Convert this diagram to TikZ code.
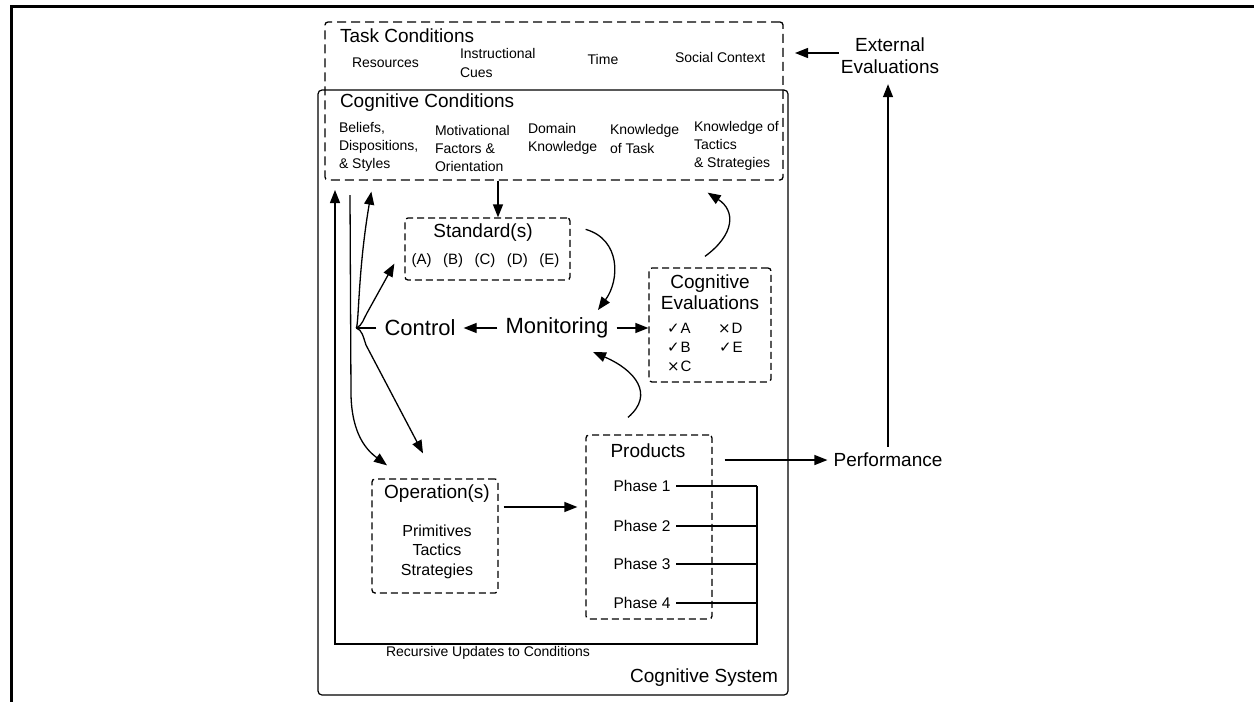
\documentclass[tikz,border=0pt]{standalone}
\usepackage{fontspec}
\setmainfont{Liberation Sans}
\newfontfamily\dvfont{DejaVu Sans}
\usetikzlibrary{arrows.meta,calc}
\begin{document}
\begin{tikzpicture}[x=1pt,y=-1pt,
  arr/.style={line width=1.3pt,-{Triangle[length=13pt,width=10pt]}},
  ln/.style={line width=1.3pt},
  dbox/.style={draw,line width=1.3pt,dash pattern=on 7pt off 4pt,rounded corners=3pt,inner sep=0pt},
  txt/.style={inner sep=0pt,outer sep=0pt},
  fbig/.style={font=\fontsize{19}{21}\selectfont},
  fhuge/.style={font=\fontsize{22}{26}\selectfont},
  fsmall/.style={font=\fontsize{14}{18.3}\selectfont},
  fmid/.style={font=\fontsize{15.5}{19.5}\selectfont},
  fev/.style={font=\fontsize{15}{18}\selectfont}]
\useasboundingbox (0,0) rectangle (1254,702);
% outer frame (cropped)
\draw[line width=2.8pt] (11.3,702) -- (11.3,6.3) -- (1254,6.3);

% boxes
\node[draw,line width=1.2pt,rounded corners=4pt,minimum width=470pt,minimum height=605pt,inner sep=0pt] (sys) at (553,392.5) {};
\node[dbox,dash pattern=on 9pt off 5pt,minimum width=458pt,minimum height=158pt] (cond) at (554,101) {};
\node[dbox,minimum width=165pt,minimum height=62pt] (std) at (487.5,249) {};
\node[dbox,minimum width=122pt,minimum height=114pt] (ev) at (710,325) {};
\node[dbox,minimum width=126pt,minimum height=114pt] (op) at (435,536) {};
\node[dbox,minimum width=126pt,minimum height=184pt] (prod) at (649,527) {};

% task conditions
\node[txt,fbig,anchor=west] (taskc) at (340,36) {Task Conditions};
\node[txt,fsmall,anchor=west] (res) at (352,63) {Resources};
\node[txt,font=\fontsize{14}{19}\selectfont,anchor=west,align=left] (instr) at (460,62.5) {Instructional\\Cues};
\node[txt,fsmall] (time) at (603,59) {Time};
\node[txt,fsmall,anchor=west] (soc) at (675,57) {Social Context};

% cognitive conditions
\node[txt,fbig,anchor=west] (cogc) at (340,103) {Cognitive Conditions};
\node[txt,fsmall,anchor=west,align=left] (bel) at (339,146.7) {Beliefs,\\Dispositions,\\\& Styles};
\node[txt,fsmall,anchor=west,align=left] (mot) at (435,148.5) {Motivational\\Factors \&\\Orientation};
\node[txt,fsmall,anchor=west,align=left] (dom) at (528,139) {Domain\\Knowledge};
\node[txt,fsmall,anchor=west,align=left] (kot) at (610,139) {Knowledge\\of Task};
\node[txt,fsmall,anchor=west,align=left] (kts) at (694,145.7) {Knowledge of\\Tactics\\\& Strategies};

% standards
\node[txt,fbig] (stdt) at (483,233) {Standard(s)};
\node[txt,font=\fontsize{15}{18}\selectfont] (stdl) at (485.5,261) {(A)\hspace{11.5pt}(B)\hspace{11.5pt}(C)\hspace{11.5pt}(D)\hspace{11.5pt}(E)};

% control / monitoring
\node[fhuge,inner sep=8pt] (ctrl) at (420,328) {Control};
\node[fhuge,inner sep=8pt] (mon) at (557,328) {Monitoring};

% cognitive evaluations
\node[txt,fbig,align=center] (evt) at (710,292.5) {Cognitive\\Evaluations};
\node[txt,anchor=west,fev] (ea) at (667,328) {{\dvfont\bfseries ✓}\kern1pt A};
\node[txt,anchor=west,fev] (ed) at (718,328) {{\dvfont ×}\kern1pt D};
\node[txt,anchor=west,fev] (eb) at (667,347) {{\dvfont\bfseries ✓}\kern1pt B};
\node[txt,anchor=west,fev] (ee) at (719,347) {{\dvfont\bfseries ✓}\kern1pt E};
\node[txt,anchor=west,fev] (ec) at (667,366) {{\dvfont ×}\kern1pt C};

% operations
\node[txt,fbig] (opt) at (437,494) {Operation(s)};
\node[txt,font=\fontsize{16}{19.5}\selectfont,align=center] (opl) at (437,551.5) {Primitives\\Tactics\\Strategies};

% products
\node[txt,fbig] (prt) at (648,451) {Products};
\node[txt,fmid] (ph1) at (642,486) {Phase 1};
\node[txt,fmid] (ph2) at (642,526) {Phase 2};
\node[txt,fmid] (ph3) at (642,564) {Phase 3};
\node[txt,fmid] (ph4) at (642,603) {Phase 4};

% outside
\node[fbig,inner sep=6pt] (perf) at (888,460) {Performance};
\node[font=\fontsize{19}{22}\selectfont,align=center,inner xsep=2pt,inner ysep=10pt] (ext) at (890,56) {External\\Evaluations};

\node[txt,fsmall] (rec) at (488,653) {Recursive Updates to Conditions};
\node[txt,fbig,anchor=east] (cs) at (778,678) {Cognitive System};

% ---------- connectors ----------
\draw[arr] ([xshift=10.5pt]std.north |- cond.south) -- ([xshift=10.5pt]std.north);
\draw[arr] (mon) -- (ctrl);
\draw[arr] (mon.east) -- (mon.east -| ev.west);
\draw[arr] ([shift={(15,12)}]std.north east) .. controls +(35,10) and +(22,-30) .. ([shift={(41,-18)}]mon.center);
\draw[arr] ([shift={(-5,-11)}]ev.north) .. controls +(30,-22) and +(28,18) .. ([shift={(-76,12)}]cond.south east);
\draw[arr] ([shift={(-21,-17)}]prod.north) .. controls +(27,-23) and +(42,18) .. ([shift={(36,24)}]mon.center);
\draw[arr] ([shift={(5,-29)}]op.east) coordinate (opout) -- ([xshift=-8pt]opout -| prod.west);
\draw[arr] ([xshift=12pt]prod.east |- perf.west) -- (perf.west);
\draw[arr] (perf.north) -- (perf.north |- ext.south);
\coordinate (extin) at (795,53);
\draw[arr] (ext.west |- extin) -- (extin);

% recursive updates
\coordinate (rj) at (757,644);
\coordinate (rl) at (335,644);
\coordinate (rtip) at (335,190);
\foreach \i in {1,2,3,4} {\draw[ln] ([xshift=6pt]ph\i.east) -- (ph\i.east -| rj);}
\draw[arr] (ph1.east -| rj) -- (rj) -- (rl) -- (rtip);

% second left line to operations
\coordinate (l2s) at (350,195);
\draw[arr] (l2s) -- (351,395) .. controls +(1,40) and +(-20,-15) .. ([shift={(-48,-13)}]op.north);

% control brace
\coordinate (J) at ([xshift=-20pt]ctrl.west);
\draw[ln] (ctrl.west) -- (J);
\draw[arr] (J) .. controls (359,322) and (358,270) .. ([shift={(47,11)}]cond.south west);
\draw[arr] (J) .. controls (362,326) and (364,318) .. (367,313) -- ([shift={(-10,-17)}]std.south west);
\draw[arr] (J) .. controls (362,330) and (363,336) .. (366,345) -- ([shift={(-12,-25)}]op.north);
\end{tikzpicture}
\end{document}
